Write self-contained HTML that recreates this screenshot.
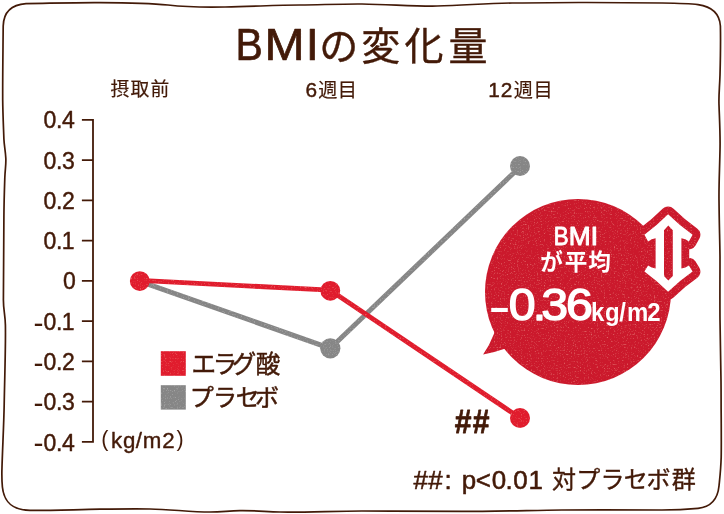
<!DOCTYPE html>
<html lang="ja">
<head>
<meta charset="utf-8">
<title>BMIの変化量</title>
<style>
html,body{margin:0;padding:0;background:#fff;}
body{width:724px;height:514px;overflow:hidden;position:relative;font-family:"Liberation Sans","Noto Sans CJK JP",sans-serif;}
svg{position:absolute;left:0;top:0;display:block;will-change:transform;}
text{font-family:"Liberation Sans","Noto Sans CJK JP",sans-serif;}
</style>
</head>
<body>
<svg width="724" height="514" viewBox="0 0 724 514">
<defs>
<filter id="grain" x="0" y="0" width="724" height="514" filterUnits="userSpaceOnUse" color-interpolation-filters="sRGB">
<feTurbulence type="fractalNoise" baseFrequency="0.7" numOctaves="2" seed="11" result="n"/>
<feColorMatrix in="n" type="matrix" values="0 0 0 0 1  0 0 0 0 0.82  0 0 0 0 0.72  1.3 0 0 0 -0.74" result="sp"/>
<feComposite in="sp" in2="SourceAlpha" operator="in" result="sp2"/>
<feMerge><feMergeNode in="SourceGraphic"/><feMergeNode in="sp2"/></feMerge>
</filter>
<filter id="grain2" x="0" y="0" width="724" height="514" filterUnits="userSpaceOnUse" color-interpolation-filters="sRGB">
<feTurbulence type="fractalNoise" baseFrequency="0.7" numOctaves="2" seed="5" result="n"/>
<feColorMatrix in="n" type="matrix" values="0 0 0 0 0.86  0 0 0 0 0.86  0 0 0 0 0.86  1.3 0 0 0 -0.72" result="sp"/>
<feComposite in="sp" in2="SourceAlpha" operator="in" result="sp2"/>
<feMerge><feMergeNode in="SourceGraphic"/><feMergeNode in="sp2"/></feMerge>
</filter>
</defs>

<!-- frame -->
<path fill="none" stroke="#431a08" stroke-width="1.7" stroke-linecap="round" stroke-linejoin="round" d="M3.2 26 C3.6 12 12 4.6 26 3.6 C60 3 80 2.4 100 2.6 C130 2.8 150 3.2 168 5 C185 7 205 7.4 225 7 C255 6.4 275 5.2 300 5 C325 4.6 345 3.8 362 4 C390 4.4 415 6.4 437 6 C465 5.4 485 3.2 512 3 C545 2.6 565 2.4 587 2.5 C615 2.6 640 2.8 662 3 C675 3.2 690 3.6 698 4.6 C712 6.6 719.6 13 720.4 26 C720.8 45 720.4 60 720 75 C719.6 88 718.6 95 719 105 C719.6 122 720.4 135 720 150 C719.6 170 718.8 185 719 200 C719.2 222 719.8 240 720 257 C720 280 719.8 300 720 320 C720.2 340 720.6 360 721 381 C721.2 395 721 400 721.2 417 C721.3 435 721.4 445 721.2 457 C720.8 470 719.8 478 719 486 C717.6 500 711 507 698 508.4 C685 509.6 675 510 662 510 C630 510 595 509.8 562 510 C530 510.4 495 511.4 462 511.4 C425 511.4 395 511 362 511 C335 511 305 512.4 280 512 C265 511.6 255 510.4 240 510.6 C228 510.8 222 512 210 512 C190 512 170 509.2 150 509 C130 508.8 115 509 100 509.2 C75 509.6 50 510.6 30 510.4 C13 510 4 503 2.4 487 C1.6 478 1.8 472 2 467 C2.6 447 3.8 425 4.2 404 C4.6 380 5.8 345 5.4 325 C5.2 315 3.4 310 3.4 300 C3.4 270 3.8 240 3.9 217 C4 205 4.4 190 4.8 178 C5.2 168 6.2 164 5.8 158 C5.4 150 4.2 146 3.9 139 C3.4 125 2.8 112 2.7 100 C2.6 75 3 50 3.2 26 Z"/>
<!-- y axis -->
<path fill="none" stroke="#431a08" stroke-width="1.8" stroke-linecap="square" d="M93.0 119.80 V441.96 M82.8 119.80 H93.0 M82.8 160.07 H93.0 M82.8 200.34 H93.0 M82.8 240.61 H93.0 M82.8 280.88 H93.0 M82.8 321.15 H93.0 M82.8 361.42 H93.0 M82.8 401.69 H93.0 M82.8 441.96 H93.0"/>
<g filter="url(#grain2)">
<!-- placebo (gray) -->
<polyline fill="none" stroke="#868686" stroke-width="5" stroke-linejoin="round" stroke-linecap="round" points="140,281.4 330.3,348.3 520.5,166.4"/>
<circle cx="330.3" cy="348.3" r="10.1" fill="#868686"/><circle cx="520" cy="166" r="10" fill="#868686"/>
<rect x="160.8" y="385.2" width="25" height="24.4" fill="#868686"/>
</g>
<g filter="url(#grain)">
<!-- ellagic acid (red) -->
<polyline fill="none" stroke="#e01c2d" stroke-width="4.8" stroke-linejoin="round" stroke-linecap="round" points="139.8,280.3 330.3,290.2 520,418"/>
<circle cx="139.8" cy="281.1" r="9.9" fill="#e01c2d"/><circle cx="330.3" cy="290.8" r="9.9" fill="#e01c2d"/><circle cx="520" cy="418" r="10" fill="#e01c2d"/>
<rect x="160.8" y="351.2" width="25" height="24.6" fill="#e01c2d"/>
<!-- speech bubble -->
<circle cx="578" cy="292" r="93" fill="#cb192c"/>
<path fill="#cb192c" d="M495 330 L493.9 333.9 Q489.6 345.2 483.1 354.4 Q494 352.8 503.9 349.1 L508 349 Z"/>
<path d="M668.1 214.3 Q679.6 225.6 692.6 234.8 L688.9 241.4 Q685.5 238.6 681.4 238.2 L681.4 268.4 Q685.5 268 688.9 265.6 L692.6 271.6 Q679.6 280.6 668.1 291.8 Q656.8 280.6 644.4 271.6 L648.1 265.6 Q651.5 268 655.6 268.4 L655.6 238.2 Q651.5 238.6 648.1 241.4 L644.4 234.8 Q656.8 225.6 668.1 214.3 Z" fill="#cb192c" stroke="#cb192c" stroke-width="15.6" stroke-linejoin="round"/>
</g>
<path d="M668.1 214.3 Q679.6 225.6 692.6 234.8 L688.9 241.4 Q685.5 238.6 681.4 238.2 L681.4 268.4 Q685.5 268 688.9 265.6 L692.6 271.6 Q679.6 280.6 668.1 291.8 Q656.8 280.6 644.4 271.6 L648.1 265.6 Q651.5 268 655.6 268.4 L655.6 238.2 Q651.5 238.6 648.1 241.4 L644.4 234.8 Q656.8 225.6 668.1 214.3 Z M668.3 225.5 L672.8 230.2 L672.8 275.9 L668.3 280.6 L664 275.9 L664 230.2 Z" fill="#fff" fill-rule="evenodd"/>
<!-- title (CJK part) -->
<g fill="#431a08" stroke="#431a08" stroke-width="0.40" stroke-linejoin="round">
<text x="319.25 361.23 404.49 448.41" y="59.5" font-size="39">の変化量</text>
</g>
<!-- column labels -->
<g fill="#431a08" stroke="#431a08" stroke-width="0.20" stroke-linejoin="round">
<text x="110.39 130.49 150.38" y="96.3" font-size="18.8">摂取前</text>
</g>
<g fill="#431a08" stroke="#431a08" stroke-width="0.20" stroke-linejoin="round">
<text x="318.19 337.68" y="96.6" font-size="19.2">週目</text>
</g>
<g fill="#431a08" stroke="#431a08" stroke-width="0.20" stroke-linejoin="round">
<text x="513.69 533.53" y="96.6" font-size="19.2">週目</text>
</g>
<!-- legend -->
<g fill="#431a08" stroke="#431a08" stroke-width="0.50" stroke-linejoin="round">
<text x="191.51 212.73 231.86 255.79" y="373" font-size="24.5">エラグ酸</text>
</g>
<g fill="#431a08" stroke="#431a08" stroke-width="0.50" stroke-linejoin="round">
<text x="189.77 213.10 235.82 255.10" y="406.3" font-size="24">プラセボ</text>
</g>
<!-- bubble text -->
<g fill="#fff">
<text x="540.33 564.65 588.24" y="270.4" font-size="22.6" font-weight="bold">が平均</text>
</g>
<!-- footnote -->
<g fill="#431a08" stroke="#431a08" stroke-width="0.40" stroke-linejoin="round">
<text x="552.09 576.13 600.48 623.80 646.40 671.84" y="488.4" font-size="24">対プラセボ群</text>
</g>
<!-- latin text -->
<g><text transform="scale(0.9100 1)" font-weight="normal" fill="#431a08" stroke="#431a08" stroke-width="0.70" stroke-linejoin="round"><tspan x="258.78" y="60.00" font-size="45.00">B</tspan></text><text transform="scale(1.0700 1)" font-weight="normal" fill="#431a08" stroke="#431a08" stroke-width="0.70" stroke-linejoin="round"><tspan x="247.24" y="60.00" font-size="45.00">M</tspan></text><text transform="scale(1.0500 1)" font-weight="normal" fill="#431a08" stroke="#431a08" stroke-width="0.70" stroke-linejoin="round"><tspan x="291.27" y="60.00" font-size="45.00">I</tspan></text></g>
<text font-weight="normal" fill="#431a08" stroke="#431a08" stroke-width="0.45" stroke-linejoin="round"><tspan x="43.40 56.05 62.08" y="128.40" font-size="23.00">0.4</tspan></text>
<text font-weight="normal" fill="#431a08" stroke="#431a08" stroke-width="0.45" stroke-linejoin="round"><tspan x="43.40 56.05 62.07" y="168.67" font-size="23.00">0.3</tspan></text>
<text font-weight="normal" fill="#431a08" stroke="#431a08" stroke-width="0.45" stroke-linejoin="round"><tspan x="43.40 56.05 62.00" y="208.94" font-size="23.00">0.2</tspan></text>
<text font-weight="normal" fill="#431a08" stroke="#431a08" stroke-width="0.45" stroke-linejoin="round"><tspan x="43.40 56.05 61.69" y="249.21" font-size="23.00">0.1</tspan></text>
<text font-weight="normal" fill="#431a08" stroke="#431a08" stroke-width="0.45" stroke-linejoin="round"><tspan x="62.90" y="289.48" font-size="23.00">0</tspan></text>
<text font-weight="normal" fill="#431a08" stroke="#431a08" stroke-width="0.45" stroke-linejoin="round"><tspan x="33.40" y="332.65" font-size="30.00" stroke-width="0.00">-</tspan><tspan x="43.40 56.05 61.69" y="329.75" font-size="23.00">0.1</tspan></text>
<text font-weight="normal" fill="#431a08" stroke="#431a08" stroke-width="0.45" stroke-linejoin="round"><tspan x="33.40" y="372.92" font-size="30.00" stroke-width="0.00">-</tspan><tspan x="43.40 56.05 62.00" y="370.02" font-size="23.00">0.2</tspan></text>
<text font-weight="normal" fill="#431a08" stroke="#431a08" stroke-width="0.45" stroke-linejoin="round"><tspan x="33.40" y="413.19" font-size="30.00" stroke-width="0.00">-</tspan><tspan x="43.40 56.05 62.07" y="410.29" font-size="23.00">0.3</tspan></text>
<text font-weight="normal" fill="#431a08" stroke="#431a08" stroke-width="0.45" stroke-linejoin="round"><tspan x="33.40" y="453.46" font-size="30.00" stroke-width="0.00">-</tspan><tspan x="43.40 56.05 62.08" y="450.56" font-size="23.00">0.4</tspan></text>
<text font-weight="normal" fill="#431a08" stroke="#431a08" stroke-width="0.45" stroke-linejoin="round"><tspan x="305.44" y="96.60" font-size="20.80">6</tspan></text>
<text font-weight="normal" fill="#431a08" stroke="#431a08" stroke-width="0.45" stroke-linejoin="round"><tspan x="488.13 500.82" y="96.60" font-size="20.80">12</tspan></text>
<text font-weight="normal" fill="#431a08" stroke="#431a08" stroke-width="0.40" stroke-linejoin="round"><tspan x="101.22" y="446.20" font-size="21.50" stroke-width="0.00">(</tspan><tspan x="111.11 122.90 135.75 142.66 162.15" y="447.90" font-size="22.30">kg/m2</tspan><tspan x="176.62" y="446.20" font-size="21.50" stroke-width="0.00">)</tspan></text>
<text transform="scale(0.9000 1)" font-weight="bold" fill="#431a08" stroke="#431a08" stroke-width="0.80" stroke-linejoin="round"><tspan x="505.14 525.20" y="432.90" font-size="33.40">##</tspan></text>
<text font-weight="normal" fill="#431a08" stroke="#431a08" stroke-width="0.55" stroke-linejoin="round"><tspan x="413.45 428.20 444.60" y="489.20" font-size="25.90">##:</tspan><tspan x="461.71 475.78 491.70 505.50 513.25 528.59" y="489.20" font-size="25.90">p&lt;0.01</tspan></text>
<g><text transform="scale(0.8800 1)" font-weight="normal" fill="#fff" stroke="#fff" stroke-width="0.90" stroke-linejoin="round"><tspan x="629.20" y="245.10" font-size="25.30">B</tspan></text><text transform="scale(1.0400 1)" font-weight="normal" fill="#fff" stroke="#fff" stroke-width="0.90" stroke-linejoin="round"><tspan x="546.82" y="245.10" font-size="25.30">M</tspan></text><text transform="scale(1.1000 1)" font-weight="normal" fill="#fff" stroke="#fff" stroke-width="0.90" stroke-linejoin="round"><tspan x="536.80" y="245.10" font-size="25.30">I</tspan></text></g>
<g><text transform="scale(1.3000 1)" font-weight="normal" fill="#fff"><tspan x="375.65" y="324.50" font-size="52.00">-</tspan></text><text transform="scale(1.1000 1)" font-weight="normal" fill="#fff" stroke="#fff" stroke-width="1.35" stroke-linejoin="round"><tspan x="462.57 484.27 492.10 514.64" y="319.70" font-size="43.90">0.36</tspan></text></g>
<text transform="scale(0.9400 1)" font-weight="bold" fill="#fff"><tspan x="628.87 643.61 658.80 667.02 688.67" y="321.00" font-size="25.50">kg/m2</tspan></text>
</svg>
</body>
</html>
